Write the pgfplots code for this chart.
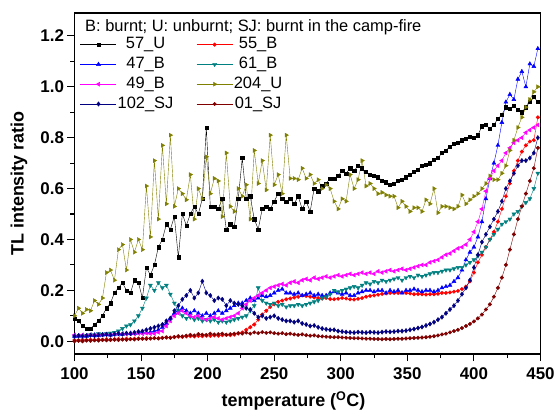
\documentclass[border=0pt]{standalone}
\usepackage{pgfplots}
\pgfplotsset{compat=1.18}
\usepackage{pgfplotstable}
\usepackage{fontspec}
\setmainfont{Liberation Sans}
\definecolor{cTeal}{RGB}{0,128,128}
\definecolor{cOlive}{RGB}{128,128,0}
\definecolor{cNavy}{RGB}{0,0,128}
\definecolor{cDRed}{RGB}{128,0,0}
\definecolor{cBlue}{RGB}{0,0,255}
\definecolor{cRed}{RGB}{255,0,0}
\definecolor{cMag}{RGB}{255,0,255}
\pgfplotstableread{
T s57U s55B s47B s61B s49B s204U s102SJ s01SJ
100 0.09 0.005 0.020 0.020 0.025 0.10 0.020 0.000
103 0.08 0.004 0.020 0.020 0.022 0.13 0.022 0.002
106 0.06 0.006 0.022 0.022 0.025 0.11 0.020 0.000
109 0.05 0.005 0.020 0.020 0.023 0.125 0.022 0.003
112 0.05 0.006 0.023 0.025 0.026 0.12 0.024 0.002
115 0.065 0.005 0.025 0.025 0.024 0.16 0.022 0.004
118 0.08 0.007 0.022 0.030 0.027 0.145 0.025 0.003
121 0.10 0.006 0.025 0.028 0.025 0.17 0.026 0.005
124 0.13 0.008 0.027 0.030 0.028 0.27 0.027 0.004
127 0.15 0.007 0.025 0.032 0.026 0.28 0.025 0.005
130 0.19 0.008 0.028 0.035 0.028 0.24 0.028 0.006
133 0.21 0.009 0.030 0.040 0.027 0.36 0.030 0.005
136 0.23 0.008 0.028 0.050 0.030 0.38 0.028 0.007
139 0.20 0.010 0.030 0.060 0.028 0.28 0.032 0.006
142 0.19 0.009 0.032 0.065 0.030 0.40 0.030 0.008
145 0.24 0.010 0.030 0.080 0.029 0.35 0.035 0.007
148 0.23 0.011 0.033 0.100 0.031 0.40 0.038 0.009
151 0.17 0.010 0.035 0.130 0.030 0.36 0.040 0.010
154 0.29 0.012 0.033 0.170 0.032 0.61 0.045 0.009
157 0.26 0.011 0.036 0.220 0.030 0.41 0.050 0.011
160 0.30 0.013 0.040 0.200 0.030 0.71 0.055 0.012
163 0.37 0.012 0.045 0.230 0.035 0.48 0.060 0.011
166 0.40 0.014 0.055 0.210 0.040 0.77 0.066 0.013
169 0.46 0.015 0.070 0.220 0.060 0.54 0.080 0.015
172 0.44 0.014 0.090 0.185 0.080 0.81 0.090 0.014
175 0.49 0.016 0.110 0.150 0.100 0.53 0.120 0.017
178 0.33 0.018 0.120 0.120 0.110 0.60 0.140 0.020
181 0.50 0.017 0.130 0.100 0.120 0.58 0.165 0.019
184 0.455 0.019 0.120 0.090 0.110 0.556 0.180 0.022
187 0.50 0.020 0.110 0.095 0.100 0.655 0.200 0.025
190 0.53 0.019 0.120 0.085 0.095 0.48 0.170 0.023
193 0.50 0.021 0.110 0.090 0.100 0.60 0.190 0.028
196 0.56 0.020 0.100 0.080 0.090 0.56 0.236 0.026
199 0.84 0.022 0.110 0.085 0.085 0.725 0.190 0.025
202 0.53 0.021 0.100 0.080 0.090 0.58 0.180 0.030
205 0.53 0.023 0.110 0.085 0.095 0.64 0.160 0.027
208 0.52 0.022 0.120 0.075 0.090 0.63 0.170 0.028
211 0.56 0.024 0.110 0.080 0.085 0.49 0.165 0.030
214 0.44 0.025 0.120 0.075 0.090 0.74 0.140 0.026
217 0.46 0.024 0.130 0.080 0.095 0.53 0.160 0.028
220 0.45 0.026 0.140 0.085 0.100 0.51 0.150 0.030
223 0.56 0.030 0.150 0.090 0.110 0.60 0.145 0.032
226 0.72 0.035 0.150 0.095 0.130 0.57 0.140 0.030
229 0.56 0.045 0.160 0.100 0.145 0.615 0.130 0.034
232 0.57 0.055 0.170 0.120 0.160 0.48 0.125 0.030
235 0.48 0.066 0.160 0.140 0.170 0.75 0.110 0.035
238 0.44 0.085 0.170 0.210 0.180 0.62 0.095 0.032
241 0.52 0.105 0.180 0.160 0.190 0.71 0.100 0.036
244 0.53 0.120 0.175 0.150 0.200 0.595 0.090 0.033
247 0.52 0.135 0.180 0.145 0.210 0.81 0.095 0.035
250 0.55 0.145 0.190 0.150 0.215 0.615 0.100 0.032
253 0.58 0.155 0.200 0.140 0.220 0.655 0.090 0.030
256 0.56 0.160 0.205 0.145 0.225 0.58 0.085 0.032
259 0.55 0.165 0.190 0.135 0.220 0.81 0.080 0.028
262 0.56 0.168 0.190 0.140 0.230 0.64 0.080 0.030
265 0.54 0.172 0.185 0.140 0.235 0.64 0.075 0.027
268 0.57 0.175 0.190 0.145 0.230 0.635 0.080 0.025
271 0.52 0.180 0.180 0.140 0.240 0.68 0.070 0.027
274 0.55 0.178 0.185 0.145 0.245 0.64 0.066 0.024
277 0.51 0.175 0.190 0.150 0.240 0.655 0.060 0.022
280 0.60 0.172 0.180 0.155 0.250 0.62 0.062 0.023
283 0.59 0.170 0.185 0.160 0.245 0.635 0.055 0.020
286 0.61 0.168 0.180 0.170 0.250 0.60 0.050 0.019
289 0.62 0.170 0.180 0.175 0.255 0.615 0.047 0.018
292 0.64 0.166 0.190 0.185 0.250 0.60 0.045 0.017
295 0.64 0.165 0.195 0.200 0.255 0.55 0.045 0.016
298 0.65 0.167 0.190 0.195 0.260 0.52 0.040 0.016
301 0.67 0.170 0.185 0.200 0.255 0.56 0.038 0.015
304 0.66 0.168 0.190 0.205 0.260 0.55 0.036 0.014
307 0.68 0.165 0.180 0.210 0.265 0.655 0.035 0.013
310 0.67 0.164 0.180 0.215 0.260 0.60 0.034 0.012
313 0.69 0.167 0.190 0.210 0.265 0.635 0.036 0.012
316 0.68 0.170 0.195 0.220 0.270 0.71 0.035 0.011
319 0.665 0.175 0.200 0.230 0.265 0.61 0.034 0.010
322 0.655 0.178 0.200 0.225 0.270 0.62 0.036 0.010
325 0.65 0.180 0.195 0.235 0.265 0.60 0.035 0.009
328 0.645 0.183 0.200 0.230 0.275 0.58 0.034 0.009
331 0.63 0.186 0.200 0.240 0.270 0.585 0.036 0.008
334 0.625 0.188 0.190 0.235 0.275 0.575 0.038 0.009
337 0.615 0.190 0.200 0.240 0.280 0.57 0.037 0.008
340 0.62 0.190 0.195 0.245 0.275 0.57 0.038 0.009
343 0.63 0.190 0.200 0.250 0.280 0.525 0.040 0.010
346 0.635 0.192 0.190 0.240 0.285 0.55 0.040 0.010
349 0.645 0.190 0.200 0.250 0.280 0.53 0.042 0.011
352 0.655 0.188 0.200 0.255 0.285 0.51 0.045 0.012
355 0.665 0.185 0.205 0.250 0.290 0.525 0.048 0.013
358 0.675 0.186 0.200 0.260 0.295 0.525 0.052 0.014
361 0.69 0.185 0.195 0.255 0.300 0.51 0.056 0.015
364 0.695 0.184 0.200 0.260 0.300 0.556 0.062 0.016
367 0.70 0.185 0.200 0.265 0.310 0.54 0.068 0.018
370 0.715 0.185 0.195 0.270 0.315 0.60 0.075 0.020
373 0.72 0.187 0.200 0.270 0.320 0.505 0.085 0.023
376 0.74 0.190 0.210 0.275 0.330 0.53 0.095 0.027
379 0.75 0.190 0.215 0.280 0.340 0.53 0.110 0.030
382 0.765 0.192 0.220 0.280 0.345 0.525 0.125 0.035
385 0.775 0.195 0.235 0.285 0.355 0.52 0.140 0.040
388 0.78 0.198 0.250 0.290 0.365 0.53 0.160 0.045
391 0.79 0.205 0.280 0.290 0.370 0.575 0.185 0.052
394 0.795 0.215 0.320 0.300 0.380 0.54 0.210 0.060
397 0.805 0.235 0.350 0.310 0.400 0.556 0.240 0.068
400 0.80 0.270 0.370 0.320 0.430 0.57 0.290 0.078
403 0.81 0.310 0.410 0.335 0.470 0.58 0.340 0.090
406 0.845 0.340 0.470 0.350 0.520 0.60 0.390 0.105
409 0.85 0.370 0.560 0.370 0.590 0.62 0.420 0.125
412 0.835 0.400 0.640 0.400 0.640 0.65 0.450 0.145
415 0.85 0.430 0.700 0.420 0.670 0.635 0.480 0.175
418 0.875 0.470 0.770 0.440 0.690 0.635 0.510 0.210
421 0.89 0.520 0.860 0.460 0.710 0.66 0.550 0.250
424 0.92 0.570 0.940 0.470 0.740 0.69 0.600 0.300
427 0.915 0.620 0.970 0.480 0.760 0.75 0.630 0.360
430 0.925 0.670 0.950 0.500 0.780 0.79 0.660 0.420
433 0.91 0.710 1.030 0.510 0.790 0.84 0.690 0.480
436 0.90 0.745 1.060 0.530 0.800 0.88 0.710 0.530
439 0.92 0.770 1.000 0.545 0.820 0.92 0.710 0.580
442 0.94 0.785 1.090 0.560 0.830 0.95 0.720 0.630
445 0.96 0.790 1.080 0.600 0.840 0.98 0.740 0.680
448 0.94 0.880 1.150 0.660 0.850 1.00 0.800 0.760
}\data
\begin{document}
\begin{tikzpicture}
\begin{axis}[
  scale only axis, width=466bp, height=341bp,
  xmin=100, xmax=450, ymin=-0.05, ymax=1.29,
  xtick={100,150,200,250,300,350,400,450},
  ytick={0,0.2,0.4,0.6,0.8,1.0,1.2},
  minor x tick num=1, minor y tick num=1,
  tick align=outside, tick pos=left,
  major tick length=7bp, minor tick length=4bp,
  axis line style={line width=1.3bp},
  every tick/.style={line width=1.1bp, black},
  /pgf/number format/assume math mode=true,
  ticklabel style={font=\fontsize{17}{20}\selectfont\bfseries},
  xticklabel style={yshift=-3bp},
  yticklabel style={/pgf/number format/.cd,fixed,fixed zerofill,precision=1},
  xlabel={temperature (\textsuperscript{O}C)},
  ylabel={TL intensity ratio},
  label style={font=\fontsize{18}{21}\selectfont\bfseries},
  xlabel style={at={(axis description cs:0.47,-0.138)}, anchor=center},
  ylabel style={at={(axis description cs:-0.119,0.5)}, anchor=center},
  legend columns=2,
  legend cell align=center,
  legend style={at={(0.012,0.935)}, anchor=north west, draw=none, fill=none,
    inner sep=0pt, font=\fontsize{16.5}{19}\selectfont,
    nodes={inner xsep=1bp, inner ysep=1bp, text height=12.5bp, text depth=4bp},
    row sep=1.3bp,
    /tikz/column 2/.style={column sep=22bp}},
  legend image code/.code={\draw[mark repeat=2,mark phase=2] plot coordinates {(0bp,0bp) (18bp,0bp) (36bp,0bp)};},
  every axis plot/.append style={line width=0.4bp, mark size=1.8bp},
]
\addplot[color=black, mark=square*, mark size=1.6bp] table[x=T,y=s57U]{\data};
\addlegendentry{57\_U}
\addplot[color=cRed, mark=*] table[x=T,y=s55B]{\data};
\addlegendentry{55\_B}
\addplot[color=cBlue, mark=triangle*, mark size=2.3bp] table[x=T,y=s47B]{\data};
\addlegendentry{47\_B}
\addplot[color=cTeal, mark=triangle*, mark size=2.3bp, mark options={rotate=180}] table[x=T,y=s61B]{\data};
\addlegendentry{61\_B}
\addplot[color=cMag, mark=triangle*, mark size=2.3bp, mark options={rotate=90}] table[x=T,y=s49B]{\data};
\addlegendentry{49\_B}
\addplot[color=cOlive, mark=triangle*, mark size=2.3bp, mark options={rotate=-90}] table[x=T,y=s204U]{\data};
\addlegendentry{204\_U}
\addplot[color=cNavy, mark=diamond*, mark size=2.2bp] table[x=T,y=s102SJ]{\data};
\addlegendentry{102\_SJ}
\addplot[color=cDRed, mark=*] table[x=T,y=s01SJ]{\data};
\addlegendentry{01\_SJ}
\node[anchor=west, inner sep=0pt, font=\fontsize{16.5}{19}\selectfont] at (rel axis cs:0.0225,0.959) {B: burnt; U: unburnt; SJ: burnt in the camp-fire};
\end{axis}
\pgfresetboundingbox
\path ([shift={(-74.5bp,-60bp)}]current axis.south west) rectangle ([shift={(14.5bp,13bp)}]current axis.north east);
\end{tikzpicture}
\end{document}
